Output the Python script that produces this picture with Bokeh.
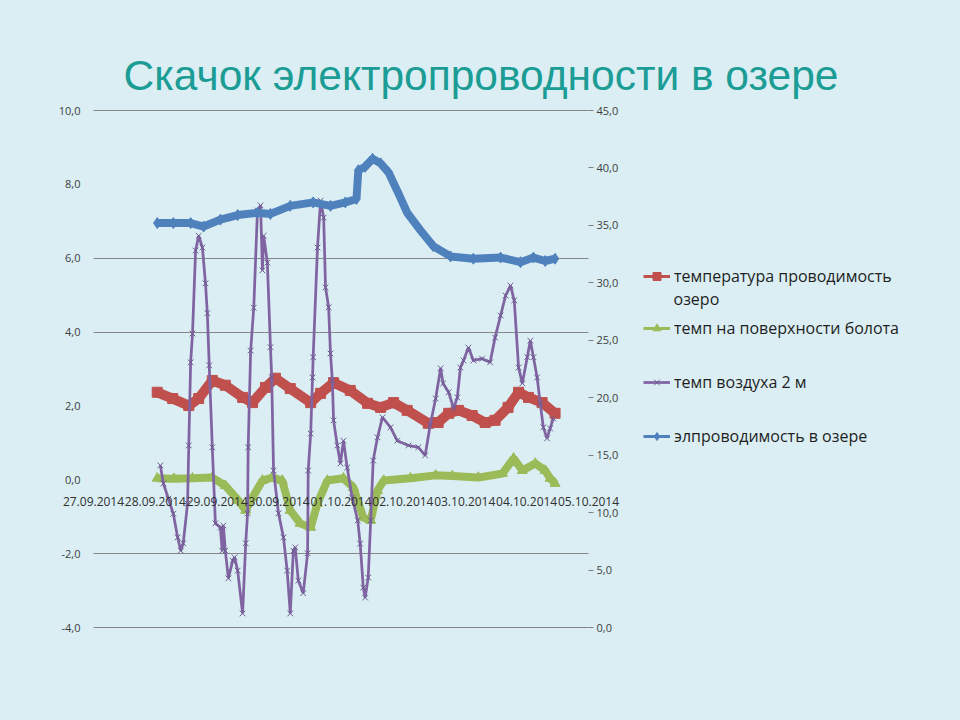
from bokeh.plotting import figure
from bokeh.models import Range1d, LinearAxis, FixedTicker, Legend, LegendItem, Label, CustomJSTickFormatter
from bokeh.embed import file_html
from bokeh.resources import INLINE

# ---------------- data (x = days since 27.09.2014 00:00) ----------------
date_labels = ["27.09.2014", "28.09.2014", "29.09.2014", "30.09.2014", "01.10.2014",
               "02.10.2014", "03.10.2014", "04.10.2014", "05.10.2014"]

red_day = [1.03, 1.28, 1.54, 1.70, 1.92, 2.13, 2.41, 2.57, 2.78, 2.94, 3.18, 3.51, 3.67, 3.88,
           4.15, 4.43, 4.64, 4.85, 5.07, 5.41, 5.57, 5.74, 5.90, 6.12, 6.33, 6.49, 6.70, 6.87,
           7.03, 7.25, 7.46]
red_val = [2.37, 2.20, 2.01, 2.20, 2.69, 2.56, 2.23, 2.09, 2.50, 2.75, 2.47, 2.09, 2.34, 2.63,
           2.42, 2.07, 1.96, 2.09, 1.88, 1.53, 1.55, 1.80, 1.88, 1.74, 1.55, 1.61, 1.96, 2.37,
           2.23, 2.09, 1.80]

green_day = [1.03, 1.30, 1.60, 1.92, 2.13, 2.34, 2.46, 2.57, 2.73, 2.89, 3.05, 3.18, 3.34, 3.51,
             3.62, 3.78, 4.04, 4.20, 4.36, 4.48, 4.59, 4.69, 5.12, 5.53, 5.80, 6.22, 6.61, 6.79,
             6.93, 7.14, 7.30, 7.38, 7.46]
green_val = [0.04, 0.03, 0.04, 0.06, -0.16, -0.56, -0.83, -0.48, -0.02, 0.06, -0.02, -0.83, -1.18,
             -1.29, -0.64, -0.02, 0.04, -0.21, -1.02, -1.10, -0.29, -0.02, 0.04, 0.12, 0.10, 0.06,
             0.17, 0.58, 0.25, 0.44, 0.25, 0.04, -0.10]

purple_day = [1.08, 1.13, 1.21, 1.29, 1.36, 1.41, 1.45, 1.52, 1.54, 1.57, 1.60, 1.65, 1.70, 1.76,
              1.81, 1.84, 1.87, 1.92, 1.97, 2.05, 2.08, 2.10, 2.13, 2.18, 2.25, 2.28, 2.33, 2.41,
              2.46, 2.49, 2.50, 2.54, 2.59, 2.65, 2.70, 2.73, 2.75, 2.81, 2.86, 2.88, 2.91, 2.99,
              3.07, 3.13, 3.18, 3.23, 3.26, 3.31, 3.39, 3.46, 3.47, 3.51, 3.54, 3.55, 3.62, 3.67,
              3.72, 3.75, 3.80, 3.83, 3.86, 3.88, 3.94, 3.99, 4.04, 4.10, 4.18, 4.27, 4.31, 4.36,
              4.39, 4.44, 4.48, 4.52, 4.59, 4.67, 4.80, 4.91, 5.09, 5.25, 5.36, 5.44, 5.53, 5.61,
              5.65, 5.74, 5.82, 5.88, 5.93, 5.98, 6.06, 6.14, 6.28, 6.41, 6.49, 6.58, 6.66, 6.74,
              6.80, 6.87, 6.93, 7.01, 7.06, 7.11, 7.17, 7.22, 7.27, 7.33, 7.38, 7.43]
purple_val = [0.39, -0.10, -0.51, -0.92, -1.56, -1.92, -1.72, -0.64, 0.93, 3.18, 3.96, 6.21, 6.61,
              6.29, 5.32, 4.51, 3.10, 0.88, -1.18, -1.29, -1.92, -1.24, -1.92, -2.67, -2.19, -2.10,
              -2.46, -3.62, -1.72, -0.91, 0.88, 3.50, 4.66, 7.29, 7.43, 5.67, 6.61, 5.88, 3.59,
              2.78, 0.25, -0.91, -1.56, -2.46, -3.62, -1.92, -1.83, -2.73, -3.07, -1.99, 0.25,
              1.25, 2.77, 3.32, 6.29, 7.56, 7.10, 5.21, 4.67, 3.42, 2.69, 1.61, 0.93, 0.44, 1.06,
              0.33, -0.48, -1.10, -1.73, -2.92, -3.19, -2.65, -1.10, 0.52, 1.15, 1.69, 1.42, 1.06,
              0.93, 0.88, 0.66, 1.47, 2.20, 3.02, 2.61, 2.37, 1.93, 2.23, 3.04, 3.23, 3.58, 3.23,
              3.28, 3.18, 3.85, 4.45, 4.99, 5.26, 4.86, 3.04, 2.61, 3.32, 3.77, 3.32, 2.77, 2.07,
              1.42, 1.12, 1.39, 1.66]

blue_day = [1.03, 1.29, 1.57, 1.78, 2.05, 2.33, 2.65, 2.86, 3.18, 3.55, 3.83, 4.07, 4.25, 4.28,
            4.39, 4.51, 4.64, 4.77, 4.91, 5.07, 5.28, 5.49, 5.77, 6.14, 6.58, 6.90, 7.11, 7.30, 7.46]
blue_val = [35.2, 35.2, 35.2, 34.9, 35.5, 35.9, 36.1, 36.0, 36.7, 37.0, 36.7, 37.0, 37.3, 39.8,
            40.1, 40.8, 40.4, 39.6, 38.0, 36.1, 34.6, 33.2, 32.3, 32.1, 32.2, 31.8, 32.2, 31.9, 32.1]

left_ticks = [-4, -2, 0, 2, 4, 6, 8, 10]
grid_ticks = [10, 6, 4, -2, -4]
right_ticks = [0, 5, 10, 15, 20, 25, 30, 35, 40, 45]

title_text = "Скачок электропроводности в озере"
names = ["температура проводимость", "темп на поверхности болота", "темп воздуха 2 м",
         "элпроводимость в озере"]
name_cont = "озеро"

# ---------------- layout geometry (page pixels) ----------------
W, H = 960, 720
FL, FR, FT, FB = 45, 915, 40, 670          # frame edges
AX_X0, AX_X8 = 93, 588                     # where day 0 and day 8 sit
AX_Y_TOP, AX_Y_BOT = 110, 627              # where left 10 / -4 and right 45 / 0 sit

pxd = (AX_X8 - AX_X0) / 8.0
pyl = (AX_Y_BOT - AX_Y_TOP) / 14.0
pyr = (AX_Y_BOT - AX_Y_TOP) / 45.0
x_rng = Range1d((FL - AX_X0) / pxd, (FR - AX_X0) / pxd)
yl_rng = Range1d(-4 - (FB - AX_Y_BOT) / pyl, 10 + (AX_Y_TOP - FT) / pyl)
yr_rng = Range1d(-(FB - AX_Y_BOT) / pyr, 45 + (AX_Y_TOP - FT) / pyr)

# ---------------- styles ----------------
BG = "#DAEEF3"
RED = "#C0504D"
GREEN = "#9BBB59"
PURPLE = "#8064A2"
BLUE = "#4F81BD"
TEAL = "#1B9C95"
TXT = "#404040"

p = figure(width=W, height=H, output_backend="svg", toolbar_location=None,
           x_range=x_rng, y_range=yl_rng,
           min_border_left=FL, min_border_right=W - FR, min_border_top=FT,
           min_border_bottom=H - FB, x_axis_location=None, y_axis_location=None)
p.title.text = ""
p.background_fill_color = BG
p.border_fill_color = BG
p.outline_line_color = None

comma_fmt = CustomJSTickFormatter(code="return tick.toFixed(1).replace('.', ',');")

ya = LinearAxis(fixed_location=0, ticker=FixedTicker(ticks=left_ticks), formatter=comma_fmt,
                axis_line_color=None, major_tick_line_color=None, minor_tick_line_color=None,
                major_label_standoff=7, major_label_text_font="Open Sans",
                major_label_text_font_size="11px", major_label_text_color=TXT)
p.add_layout(ya, "left")

p.extra_y_ranges = {"r": yr_rng}
ra = LinearAxis(y_range_name="r", fixed_location=8, ticker=FixedTicker(ticks=right_ticks),
                formatter=comma_fmt, axis_line_color=None, minor_tick_line_color=None,
                major_tick_in=0, major_tick_out=5, major_tick_line_color="#808080",
                major_label_standoff=3, major_label_text_font="Open Sans",
                major_label_text_font_size="11px", major_label_text_color=TXT)
p.add_layout(ra, "right")

xa = LinearAxis(fixed_location=0, ticker=FixedTicker(ticks=list(range(len(date_labels)))),
                major_label_overrides={i: s for i, s in enumerate(date_labels)},
                axis_line_color=None, major_tick_line_color=None, minor_tick_line_color=None,
                major_label_standoff=11, major_label_text_font="Open Sans",
                major_label_text_font_size="12px", major_label_text_color="#303030")
p.add_layout(xa, "below")

# horizontal grid lines, only across the plotting area (day 0..8)
grid = p.ygrid[0]
grid.ticker = FixedTicker(ticks=grid_ticks)
grid.grid_line_color = "#878787"
grid.grid_line_width = 1
if "cross_bounds" in grid.properties():
    grid.cross_bounds = (0, 8)
else:
    grid.visible = False
    p.segment(x0=[0] * len(grid_ticks), x1=[8] * len(grid_ticks), y0=grid_ticks, y1=grid_ticks,
              line_color="#878787", line_width=1)
for g in p.xgrid:
    g.visible = False

# red
red_leg_line = p.line(red_day, red_val, line_color=RED, line_width=3)
p.line(red_day, red_val, line_color=RED, line_width=10)
red_mk = p.scatter(red_day, red_val, marker="square", size=10, fill_color=RED, line_color=RED)
# green
green_leg_line = p.line(green_day, green_val, line_color=GREEN, line_width=3)
p.line(green_day, green_val, line_color=GREEN, line_width=8)
green_mk = p.scatter(green_day, green_val, marker="triangle", size=10, fill_color=GREEN,
                     line_color=GREEN)
# purple
purple_line = p.line(purple_day, purple_val, line_color=PURPLE, line_width=2.75)
purple_mk = p.scatter(purple_day, purple_val, marker="x", size=8, line_color="#6E5A92",
                      line_width=1)
# blue (right axis)
blue_leg_line = p.line(blue_day, blue_val, line_color=BLUE, line_width=3, y_range_name="r")
p.line(blue_day, blue_val, line_color=BLUE, line_width=8, y_range_name="r")
blue_mk = p.scatter(blue_day, blue_val, marker="diamond", size=11, fill_color=BLUE,
                    line_color=BLUE, y_range_name="r")

# legends (one per entry; location is relative to the frame's bottom-left corner)
def add_leg(label, rends, cy):
    leg = Legend(items=[LegendItem(label=label, renderers=rends)],
                 location=(643 - FL, FB - (cy + 10)), padding=0, margin=0, spacing=0,
                 glyph_width=27, glyph_height=20, label_height=20, label_standoff=4,
                 label_text_font="Open Sans", label_text_font_size="16px",
                 label_text_color="#1F1F1F", background_fill_alpha=0, border_line_alpha=0)
    p.add_layout(leg)

add_leg(names[0], [red_leg_line, red_mk], 277)
add_leg(names[1], [green_leg_line, green_mk], 329)
add_leg(names[2], [purple_line, purple_mk], 383)
add_leg(names[3], [blue_leg_line, blue_mk], 437)

p.add_layout(Label(x=673 - FL, y=FB - 298, x_units="screen", y_units="screen", text=name_cont,
                   text_align="left", text_baseline="middle", text_font="Open Sans",
                   text_font_size="16px", text_color="#1F1F1F"))

p.add_layout(Label(x=480.5 - FL, y=FB - 75, x_units="screen", y_units="screen", text=title_text,
                   text_align="center", text_baseline="middle", text_font="Liberation Sans",
                   text_font_size="42.5px", text_color=TEAL))

html = file_html(p, INLINE)
html = html.replace("<head>", "<head><style>html,body{background:" + BG + ";}</style>", 1)
open("out.html", "w").write(html)
